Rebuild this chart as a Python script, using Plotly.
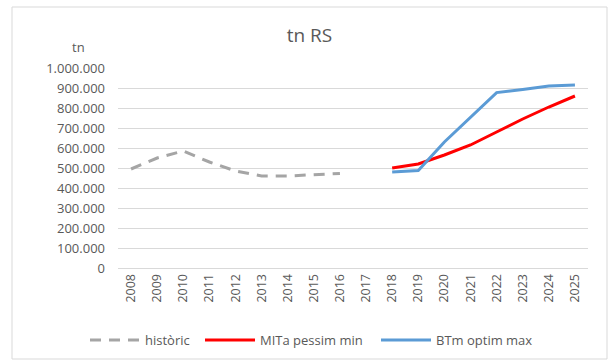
import plotly.graph_objects as go

years = [str(y) for y in range(2008, 2026)]
hist_years = [str(y) for y in range(2008, 2017)]
hist_vals = [495000, 550000, 585000, 530000, 485000, 460000, 460000, 468000, 473000]
proj_years = [str(y) for y in range(2018, 2026)]
mita_vals = [500000, 520000, 565000, 615000, 680000, 745000, 805000, 860000]
btm_vals = [480000, 487000, 630000, 755000, 877000, 893000, 910000, 915000]
y_ticks = list(range(0, 1000001, 100000))
y_tick_text = ["0"] + [f"{v:,}".replace(",", ".") for v in y_ticks[1:]]

FONT = "Open Sans"
GREY_TXT = "#595959"

W, H = 611, 360
L, R, T, B = 118, 23, 68, 92
pw, ph = W - L - R, H - T - B

def px(x):
    return (x - L) / pw

def py(y):
    return (H - B - y) / ph

fig = go.Figure()
fig.add_trace(go.Scatter(x=hist_years, y=hist_vals, mode="lines", name="històric",
                         line=dict(color="#a5a5a5", width=3, dash="11px,8px"),
                         legend="legend"))
fig.add_trace(go.Scatter(x=proj_years, y=mita_vals, mode="lines", name="MITa pessim min",
                         line=dict(color="#ff0000", width=3), legend="legend2"))
fig.add_trace(go.Scatter(x=proj_years, y=btm_vals, mode="lines", name="BTm optim max",
                         line=dict(color="#5b9bd5", width=3), legend="legend3"))

leg_common = dict(orientation="h", xanchor="left", y=py(340), yanchor="middle",
                  itemwidth=50,
                  font=dict(size=13, color=GREY_TXT), bgcolor="rgba(0,0,0,0)")

fig.update_layout(
    width=W, height=H,
    margin=dict(l=L, r=R, t=T, b=B, autoexpand=False),
    paper_bgcolor="white", plot_bgcolor="white",
    font=dict(family=FONT, size=13, color=GREY_TXT),
    title=dict(text="tn RS", x=309.5 / W, xanchor="center", y=1 - 35 / H, yanchor="middle",
               xref="container", yref="container",
               font=dict(family=FONT, size=19, color=GREY_TXT)),
    xaxis=dict(categoryorder="array", categoryarray=years, type="category",
               range=[-0.5, len(years) - 0.5], tickangle=-90,
               tickfont=dict(size=12.5, color=GREY_TXT), showgrid=False,
               showline=True, linecolor="#d9d9d9", linewidth=1, ticks="", ticklen=0,
               fixedrange=True),
    yaxis=dict(range=[0, 1000000], tickvals=y_ticks, ticktext=y_tick_text,
               showgrid=True, gridcolor="#d9d9d9", gridwidth=1, zeroline=False,
               showline=False, ticks="", ticklabelstandoff=12,
               tickfont=dict(size=13, color=GREY_TXT), fixedrange=True),
    legend=dict(x=px(85), **leg_common),
    legend2=dict(x=px(200), **leg_common),
    legend3=dict(x=px(376), **leg_common),
    showlegend=True,
)
fig.add_annotation(text="tn", x=px(78), y=py(47), xref="paper", yref="paper",
                   showarrow=False, xanchor="center", yanchor="middle",
                   font=dict(size=13, color=GREY_TXT))
fig.add_shape(type="rect", xref="paper", yref="paper",
              x0=px(12), x1=px(607), y0=py(359), y1=py(7),
              line=dict(color="#d9d9d9", width=1), fillcolor="rgba(0,0,0,0)", layer="below")

fig.write_html("out.html", config={"displayModeBar": False},
               post_script="document.body.style.margin='0';document.body.style.overflow='hidden';")
